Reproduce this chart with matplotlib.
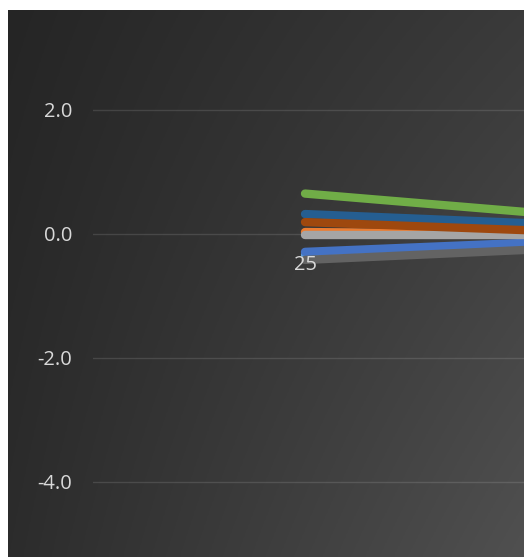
import numpy as np
import matplotlib.pyplot as plt

# categories (only the first one is in view, the rest is cut off on the right)
categories = ["25", "26"]

# series values, one list per line
s_light_blue = [-0.34, -0.03]
s_blue = [-0.29, -0.01]
s_orange = [0.03, -0.03]
s_light_gray = [-0.02, -0.02]
s_green = [0.65, 0.08]
s_dark_blue = [0.32, 0.04]
s_brown = [0.19, -0.06]
s_dark_gray = [-0.42, -0.11]

series = [
    (s_light_blue, "#5B9BD5"),
    (s_blue, "#4472C4"),
    (s_orange, "#ED7D31"),
    (s_light_gray, "#A5A5A5"),
    (s_green, "#70AD47"),
    (s_dark_blue, "#255E91"),
    (s_brown, "#9E480E"),
    (s_dark_gray, "#636363"),
]

yticks = [-4.0, -2.0, 0.0, 2.0]

W, H = 524, 557
fig = plt.figure(figsize=(W / 100, H / 100), dpi=100)
fig.patch.set_facecolor("white")

# dark gradient panel
bg = fig.add_axes([8 / W, 0, (W - 8) / W, (H - 10) / H])
u = np.linspace(0, 1, 200)
v = np.linspace(0, 1, 200)
U, V = np.meshgrid(u, v)
tl, tr, bl, br = 37, 58, 44, 80
g = (tl * (1 - U) * (1 - V) + tr * U * (1 - V) + bl * (1 - U) * V + br * U * V) / 255
bg.imshow(np.dstack([g, g, g]), aspect="auto", extent=[0, 1, 1, 0])
bg.set_axis_off()

ax = fig.add_axes([93 / W, 0, (W - 93) / W, (H - 10) / H])
ax.patch.set_alpha(0)

x = np.arange(len(categories))
for vals, col in series:
    ax.plot(x, vals, color=col, lw=6, solid_capstyle="round", zorder=2)

ax.set_yticks(yticks)
ax.set_yticklabels([f"{t:.1f}" for t in yticks])
ax.set_xticks([])
ax.set_xlim(-0.5, 0.5165)
ax.set_ylim(-5.21, 3.61)
ax.grid(axis="y", color="white", alpha=0.12, lw=1)
ax.set_axisbelow(True)

# category labels sit just under the zero line, on top of the lines
for xi, cat in zip(x, categories):
    ax.annotate(cat, xy=(xi, 0), xytext=(0, -15), textcoords="offset points",
                ha="center", va="top", fontsize=14.5, color="#d9d9d9",
                fontfamily="Open Sans", zorder=5, annotation_clip=True)

for s in ax.spines.values():
    s.set_visible(False)
ax.tick_params(axis="both", length=0, labelsize=14.5, labelcolor="#d9d9d9")
ax.tick_params(axis="y", pad=15)
for lab in ax.get_yticklabels():
    lab.set_fontfamily("Open Sans")

fig.savefig("out.png", dpi=100)
